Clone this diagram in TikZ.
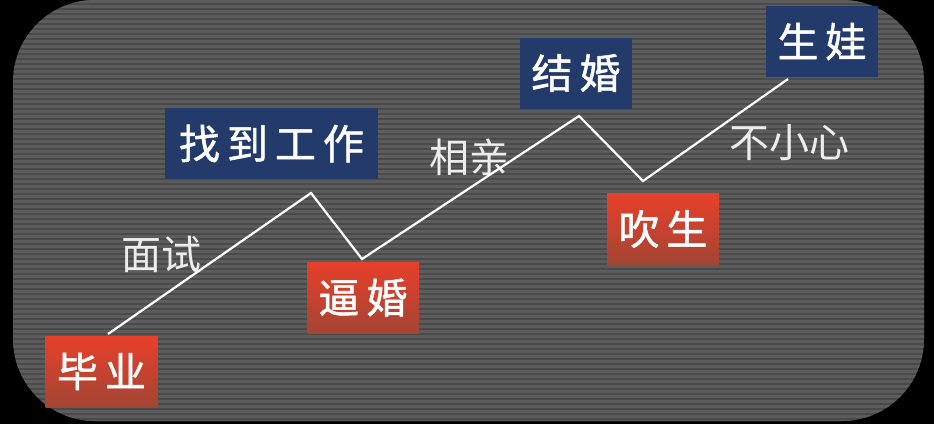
\documentclass[tikz,border=0pt]{standalone}
\usepackage{fontspec}
\setmainfont{Noto Sans CJK SC}
\newfontfamily\cjk{Noto Sans CJK SC}
\newfontfamily\cjkbox[FakeBold=1.2]{Noto Sans CJK SC}
\definecolor{bgdark}{HTML}{4A4A4A}
\definecolor{bglight}{HTML}{5C5C5C}
\definecolor{redtop}{HTML}{E8402A}
\definecolor{redbot}{HTML}{A34534}
\definecolor{navy}{HTML}{233B6B}
\definecolor{labelgray}{HTML}{EDEDED}
\newcommand\chgap{\hspace{7pt}}
\tikzset{
  boxbase/.style={minimum width=112pt, minimum height=71pt, inner sep=0pt, text=white,
    font=\cjkbox\fontsize{41}{42}\selectfont},
  redbox/.style={boxbase, top color=redtop, bottom color=redbot},
  navybox/.style={boxbase, fill=navy},
  steplabel/.style={text=labelgray, inner sep=0pt, font=\cjk\fontsize{40}{41}\selectfont},
  zig/.style={draw=white, line width=2.2pt, line join=miter}
}
\begin{document}
\begin{tikzpicture}[x=1pt,y=-1pt]
\useasboundingbox (0,0) rectangle (934,424);
\fill[black] (0,0) rectangle (934,424);
\begin{scope}
  \clip[rounded corners=82pt] (13,0) rectangle (924,421);
  \fill[bgdark] (0,0) rectangle (934,424);
  \foreach \i in {0,...,85} {
    \fill[bglight] (0,\i*5) rectangle (934,\i*5+2.5);
  }
\end{scope}
% labels
\node[steplabel] (ms) at (161,254) {面试};
\node[steplabel] (xq) at (469,157) {相亲};
\node[steplabel] (bxx) at (789,143) {不小心};
% zigzag vertices
\coordinate (z0) at (108,334);
\coordinate (z1) at (311,193);
\coordinate (z2) at (362,259);
\coordinate (z3) at (579,116);
\coordinate (z4) at (643,181);
\coordinate (z5) at (788,79);
\draw[zig] (z0) -- (z1) -- (z2) -- (z3) -- (z4) -- (z5);
% boxes
\node[redbox] (by) at (101.5,371.5) {毕\chgap 业};
\node[navybox, minimum width=213pt] (zdgz) at (271.5,143.5) {找\chgap 到\chgap 工\chgap 作};
\node[redbox] (bh) at (363,297.5) {逼\chgap 婚};
\node[navybox] (jh) at (576,73) {结\chgap 婚};
\node[redbox] (cs) at (663,229) {吹\chgap 生};
\node[navybox] (sw) at (822,41.5) {生\chgap 娃};
\end{tikzpicture}
\end{document}
